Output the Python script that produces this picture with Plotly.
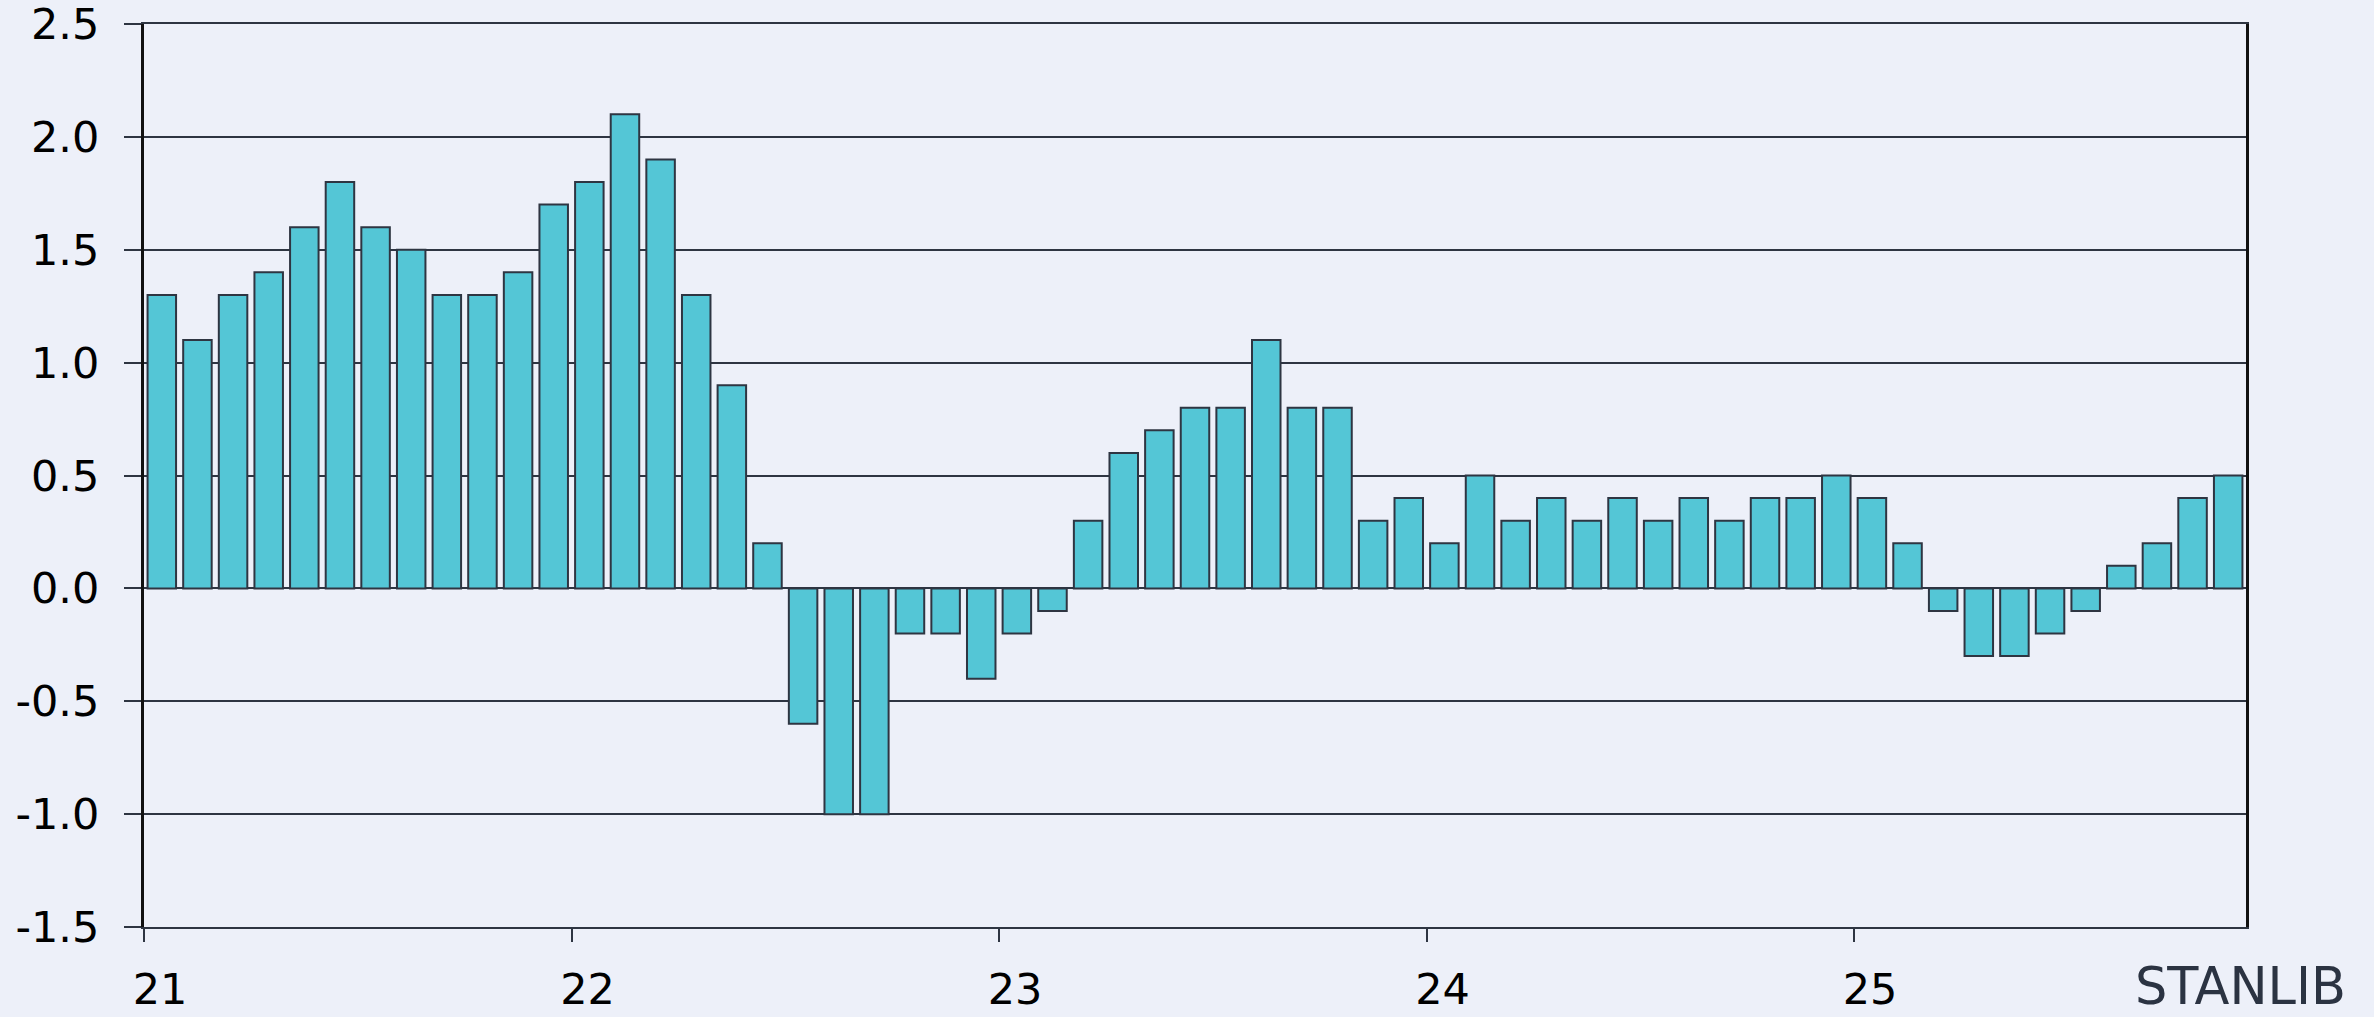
import plotly.graph_objects as go

# Monthly values, Jan 2021 .. Nov 2025
values = [1.3, 1.1, 1.3, 1.4, 1.6, 1.8, 1.6, 1.5, 1.3, 1.3, 1.4, 1.7,
          1.8, 2.1, 1.9, 1.3, 0.9, 0.2, -0.6, -1.0, -1.0, -0.2, -0.2, -0.4,
          -0.2, -0.1, 0.3, 0.6, 0.7, 0.8, 0.8, 1.1, 0.8, 0.8, 0.3, 0.4,
          0.2, 0.5, 0.3, 0.4, 0.3, 0.4, 0.3, 0.4, 0.3, 0.4, 0.4, 0.5,
          0.4, 0.2, -0.1, -0.3, -0.3, -0.2, -0.1, 0.1, 0.2, 0.4, 0.5]
months_per_year = 12
year_labels = ["21", "22", "23", "24", "25"]
y_tickvals = [-1.5, -1.0, -0.5, 0.0, 0.5, 1.0, 1.5, 2.0, 2.5]
y_ticktext = ["-1.5", "-1.0", "-0.5", "0.0", "0.5", "1.0", "1.5", "2.0", "2.5"]
brand = "STANLIB"

n = len(values)
x_pos = [i + 0.5 for i in range(n)]
x_tickvals = [i * months_per_year for i in range(len(year_labels))]

BG = "#EDF0F9"
DARK = "#2E3542"

FW, FH = 2374, 1017
ML, MR, MT, MB = 143.5, 127.5, 24, 90
PW = FW - ML - MR
PH = FH - MT - MB

fig = go.Figure()
fig.add_trace(go.Bar(
    x=x_pos, y=values,
    marker=dict(color="#54C6D6", line=dict(color=DARK, width=2)),
    width=0.8,
    hoverinfo="skip",
))

fig.update_layout(
    width=FW, height=FH,
    paper_bgcolor=BG, plot_bgcolor=BG,
    margin=dict(l=ML, r=MR, t=MT, b=MB, pad=0, autoexpand=False),
    showlegend=False,
    font=dict(family="DejaVu Sans", size=43, color="#000000"),
    annotations=[dict(
        text=brand, xref="paper", yref="paper",
        x=(2349 - ML) / PW, y=(PH + MT - 986) / PH,
        xanchor="right", yanchor="middle", showarrow=False,
        font=dict(family="DejaVu Sans", size=51, color="#2B3342"),
    )],
)

fig.update_xaxes(
    range=[0, n], tickmode="array", tickvals=x_tickvals, ticktext=year_labels,
    ticks="outside", ticklen=13, tickwidth=2, tickcolor=DARK,
    showline=True, linecolor=DARK, linewidth=2, mirror=True,
    showgrid=False, zeroline=False, automargin=False,
    ticklabelshift=16, ticklabelstandoff=10, ticklabeloverflow="allow",
)
fig.update_yaxes(
    range=[-1.5, 2.5], tickmode="array", tickvals=y_tickvals, ticktext=y_ticktext,
    ticks="outside", ticklen=17, tickwidth=2, tickcolor=DARK,
    showline=True, linecolor="#111111", linewidth=3, mirror=True,
    showgrid=True, gridcolor=DARK, gridwidth=2,
    zeroline=True, zerolinecolor=DARK, zerolinewidth=2, automargin=False,
    ticklabelstandoff=16, ticklabeloverflow="allow",
)

fig.write_html(
    "out.html",
    config={"displayModeBar": False},
    post_script="document.body.style.margin='0';document.body.style.overflow='hidden';",
)
